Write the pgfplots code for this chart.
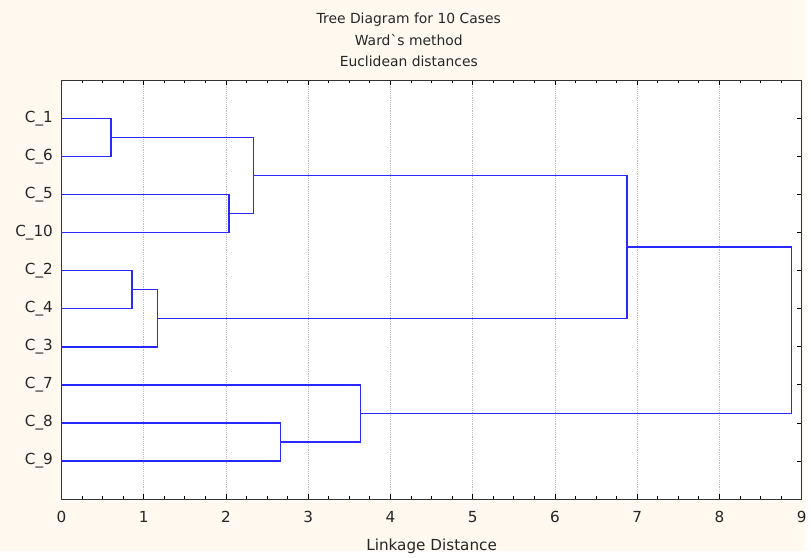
\documentclass[border=0pt]{standalone}
\usepackage{fontspec}
\setmainfont{DejaVu Sans}
\usepackage{pgfplots}
\pgfplotsset{compat=1.18}
\definecolor{cream}{RGB}{255,249,240}
\definecolor{dblue}{RGB}{40,40,255}
\begin{document}
\begin{tikzpicture}[x=1pt,y=1pt]
\fill[cream] (0,0) rectangle (608.25,416.25);
\begin{axis}[
  at={(46.5pt,39pt)}, anchor=south west,
  scale only axis, width=559.5pt, height=316.5pt,
  xmin=0, xmax=9, ymin=0, ymax=11,
  axis background/.style={fill=white},
  axis line style={black!80, line width=0.9pt},
  xtick={0,...,9}, minor x tick num=3,
  ytick={1,...,10},
  yticklabels={C\_9,C\_8,C\_7,C\_3,C\_4,C\_2,C\_10,C\_5,C\_6,C\_1},
  ytick pos=right, yticklabel pos=left,
  xtick pos=both,
  tick align=inside,
  major tick length=3.5pt, minor tick length=2pt,
  tick style={black, line width=0.7pt},
  xmajorgrids, grid style={black!25, densely dotted, line width=0.5pt},
  /pgf/number format/assume math mode=true,
  ticklabel style={font=\fontsize{11.5}{13}\selectfont, text=black!85},
  xticklabel style={anchor=base, yshift=-18pt},
  yticklabel style={xshift=-3pt},
  xlabel={Linkage Distance},
  xlabel style={font=\fontsize{11.5}{13}\selectfont, text=black!85, at={(axis description cs:0.5,0)}, anchor=base, yshift=-38.5pt},
]
\addplot[dblue, line width=1pt] coordinates {(0,10)(0.60,10)(0.60,9)(0,9)};
\addplot[dblue, line width=1pt] coordinates {(0,8)(2.035,8)(2.035,7)(0,7)};
\addplot[dblue, line width=1pt] coordinates {(0.60,9.5)(2.336,9.5)(2.336,7.5)(2.035,7.5)};
\addplot[dblue, line width=1pt] coordinates {(0,6)(0.856,6)(0.856,5)(0,5)};
\addplot[dblue, line width=1pt] coordinates {(0.856,5.5)(1.17,5.5)(1.17,4)(0,4)};
\addplot[dblue, line width=1pt] coordinates {(2.336,8.5)(6.876,8.5)(6.876,4.75)(1.17,4.75)};
\addplot[dblue, line width=1pt] coordinates {(0,2)(2.66,2)(2.66,1)(0,1)};
\addplot[dblue, line width=1pt] coordinates {(0,3)(3.635,3)(3.635,1.5)(2.66,1.5)};
\addplot[dblue, line width=1pt] coordinates {(6.876,6.625)(8.874,6.625)(8.874,2.25)(3.635,2.25)};
\end{axis}
\begin{scope}[font=\fontsize{10.5}{12}\selectfont, text=black!85]
\node[anchor=base] at (309,398.25) {Tree Diagram for 10 Cases};
\node[anchor=base] at (309,382.1) {Ward\textasciigrave s method};
\node[anchor=base] at (309,366) {Euclidean distances};
\end{scope}
\end{tikzpicture}
\end{document}
